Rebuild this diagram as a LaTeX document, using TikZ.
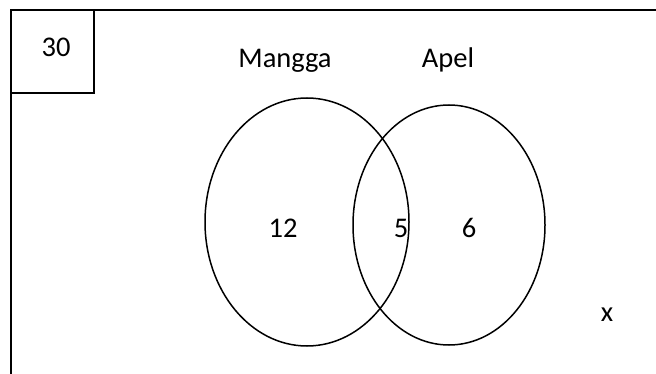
\documentclass[tikz,border=0pt]{standalone}
\usepackage{fontspec}
\setmainfont{Carlito}
\begin{document}
\begin{tikzpicture}[x=1pt,y=-1pt,
  frame/.style={draw=black,line width=1.6pt},
  setring/.style={draw=black,line width=1.5pt},
  lbl/.style={font=\fontsize{28.5}{34}\selectfont,inner sep=0pt,anchor=base}]
\useasboundingbox (0,0) rectangle (656,374);
% universe frame (runs past the right and bottom edges)
\draw[frame] (11,380) -- (11,10) -- (660,10);
% box holding the size of the universe
\draw[frame] (11,93) -- (94,93) -- (94,10);
\node[lbl] (total) at (56,57) {30};
% the two sets
\draw[setring] (307,222) ellipse [x radius=102,y radius=124];
\draw[setring] (449,225) ellipse [x radius=96,y radius=120];
\node[lbl] (mangga) at (285,68) {Mangga};
\node[lbl] (apel) at (448,68) {Apel};
\node[lbl] (onlyM) at (283,237.5) {12};
\node[lbl] (both) at (401,238) {5};
\node[lbl] (onlyA) at (469,238) {6};
\node[lbl] (outside) at (607,321) {x};
\end{tikzpicture}
\end{document}
